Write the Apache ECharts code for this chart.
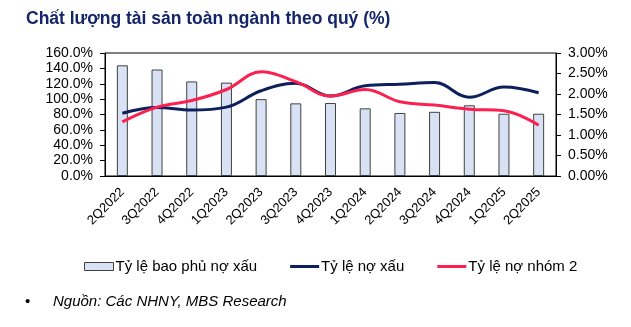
<!DOCTYPE html>
<html>
<head>
<meta charset="utf-8">
<script src="https://cdn.jsdelivr.net/npm/echarts@6/dist/echarts.min.js"></script>
<style>
  html, body { margin: 0; padding: 0; background: #fff; }
  #chart { width: 631px; height: 327px; }
</style>
</head>
<body>
<div id="chart"></div>
<script>
// Quarterly asset-quality indicators for the banking sector
const quarters = ['2Q2022', '3Q2022', '4Q2022', '1Q2023', '2Q2023', '3Q2023', '4Q2023',
                  '1Q2024', '2Q2024', '3Q2024', '4Q2024', '1Q2025', '2Q2025'];
// NPL coverage ratio (%), left axis
const coverageRatio = [144, 138.5, 123, 121.5, 100, 94.5, 95, 88, 82, 83.5, 92, 81, 81];
// NPL ratio (%), right axis
const nplRatio = [1.53, 1.67, 1.61, 1.68, 2.08, 2.26, 1.95, 2.20, 2.24, 2.28, 1.92, 2.17, 2.03];
// Group-2 debt ratio (%), right axis
const group2Ratio = [1.32, 1.68, 1.84, 2.11, 2.54, 2.30, 1.95, 2.11, 1.81, 1.73, 1.63, 1.59, 1.24];

const seriesNames = ['Tỷ lệ bao phủ nợ xấu', 'Tỷ lệ nợ xấu', 'Tỷ lệ nợ nhóm 2'];
const titleText = 'Chất lượng tài sản toàn ngành theo quý (%)';
const sourceText = 'Nguồn: Các NHNY, MBS Research';

const leftAxis = { min: 0, max: 160, interval: 20, digits: 1 };
const rightAxis = { min: 0, max: 3, interval: 0.5, digits: 2 };

const FONT = 'Liberation Sans, Arial, sans-serif';
const NAVY = '#0d1f5c';
const RED = '#fb2050';

const chart = echarts.init(document.getElementById('chart'), null, { renderer: 'canvas' });

chart.setOption({
  animation: false,
  backgroundColor: '#fff',
  textStyle: { fontFamily: FONT },
  graphic: [
    { type: 'text', left: 26, top: 10,
      style: { text: titleText, font: 'bold 17.5px ' + FONT, fill: '#14256b' } },
    { type: 'text', left: 25, top: 294,
      style: { text: '•', font: '15px ' + FONT, fill: '#000' } },
    { type: 'text', left: 53, top: 294,
      style: { text: sourceText, font: 'italic 15px ' + FONT, fill: '#000' } }
  ],
  legend: {
    top: 254,
    left: 79,
    itemGap: 33,
    itemWidth: 29,
    itemHeight: 8,
    textStyle: { fontSize: 15, color: '#000', fontFamily: FONT, padding: [0, 0, 0, -3] },
    data: [
      { name: seriesNames[0], icon: 'rect',
        itemStyle: { color: '#d9e1f4', borderColor: '#404040', borderWidth: 1 } },
      { name: seriesNames[1], icon: 'path://M0,0 L29,0 L29,3 L0,3 Z',
        itemStyle: { color: NAVY, borderWidth: 0 } },
      { name: seriesNames[2], icon: 'path://M0,0 L29,0 L29,3 L0,3 Z',
        itemStyle: { color: RED, borderWidth: 0 } }
    ]
  },
  grid: {
    left: 105, right: 75, top: 53, bottom: 151,
    show: true, borderColor: '#000', borderWidth: 1, containLabel: false
  },
  xAxis: {
    type: 'category',
    data: quarters,
    axisLine: { lineStyle: { color: '#000', width: 1 } },
    axisTick: { show: false },
    axisLabel: { rotate: 45, fontSize: 13, color: '#000', margin: 14, interval: 0 }
  },
  yAxis: [
    {
      type: 'value', min: leftAxis.min, max: leftAxis.max, interval: leftAxis.interval,
      axisLine: { show: true, lineStyle: { color: '#000', width: 1 } },
      axisTick: { show: true, length: 5, lineStyle: { color: '#000' } },
      splitLine: { show: false },
      axisLabel: { fontSize: 14, color: '#000', margin: 12,
        formatter: v => v.toFixed(leftAxis.digits) + '%' }
    },
    {
      type: 'value', min: rightAxis.min, max: rightAxis.max, interval: rightAxis.interval,
      axisLine: { show: true, lineStyle: { color: '#000', width: 1 } },
      axisTick: { show: true, length: 5, lineStyle: { color: '#000' } },
      splitLine: { show: false },
      axisLabel: { fontSize: 14, color: '#000', margin: 12,
        formatter: v => v.toFixed(rightAxis.digits) + '%' }
    }
  ],
  series: [
    {
      name: seriesNames[0], type: 'bar', yAxisIndex: 0, data: coverageRatio,
      barWidth: 11,
      itemStyle: { color: '#d9e1f4', borderColor: '#404040', borderWidth: 1 }
    },
    {
      name: seriesNames[1], type: 'line', yAxisIndex: 1, data: nplRatio,
      smooth: 0.4, symbol: 'none',
      lineStyle: { color: NAVY, width: 3 }, itemStyle: { color: NAVY }
    },
    {
      name: seriesNames[2], type: 'line', yAxisIndex: 1, data: group2Ratio,
      smooth: 0.4, symbol: 'none',
      lineStyle: { color: RED, width: 3 }, itemStyle: { color: RED }
    }
  ]
});
</script>
</body>
</html>
